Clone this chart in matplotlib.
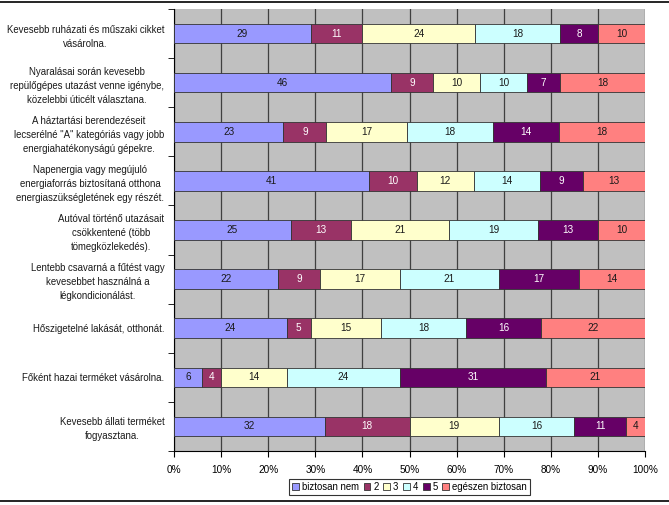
import numpy as np
import matplotlib.pyplot as plt
from matplotlib.lines import Line2D

plt.rcParams['font.family'] = ['Liberation Sans', 'DejaVu Sans']

categories = [
    'Kevesebb ruházati és műszaki cikket\nvásárolna.',
    'Nyaralásai során kevesebb\nrepülőgépes utazást venne igénybe,\nközelebbi úticélt választana.',
    'A háztartási berendezéseit\nlecserélné "A" kategóriás vagy jobb\nenergiahatékonyságú gépekre.',
    'Napenergia vagy megújuló\nenergiaforrás biztosítaná otthona\nenergiaszükségletének egy részét.',
    'Autóval történő utazásait\ncsökkentené (több\ntömegközlekedés).',
    'Lentebb csavarná a fűtést vagy\nkevesebbet használná a\nlégkondicionálást.',
    'Hőszigetelné lakását, otthonát.',
    'Főként hazai terméket vásárolna.',
    'Kevesebb állati terméket\nfogyasztana.',
]
series_names = ['biztosan nem', '2', '3', '4', '5', 'egészen biztosan']
biztosan_nem = [29, 46, 23, 41, 25, 22, 24, 6, 32]
s2 = [11, 9, 9, 10, 13, 9, 5, 4, 18]
s3 = [24, 10, 17, 12, 21, 17, 15, 14, 19]
s4 = [18, 10, 18, 14, 19, 21, 18, 24, 16]
s5 = [8, 7, 14, 9, 13, 17, 16, 31, 11]
egeszen = [10, 18, 18, 13, 10, 14, 22, 21, 4]

colors = ['#9999FF', '#993366', '#FFFFCC', '#CCFFFF', '#660066', '#FF8080']
text_colors = ['#1a1a1a', 'white', '#1a1a1a', '#1a1a1a', 'white', '#1a1a1a']

data = np.array([biztosan_nem, s2, s3, s4, s5, egeszen], dtype=float)
pct = data / data.sum(axis=0) * 100

fig = plt.figure(figsize=(6.69, 5.05), dpi=100)
ax = fig.add_axes([174 / 669, 1 - 451 / 505, (645 - 174) / 669, (451 - 9) / 505])
ax.set_facecolor('#C0C0C0')

y = np.arange(len(categories))
left = np.zeros(len(categories))
for i, name in enumerate(series_names):
    bars = ax.barh(y, pct[i], left=left, height=0.4, color=colors[i],
                   edgecolor='#333333', linewidth=0.6, label=name, zorder=3)
    for b, v in zip(bars, data[i]):
        ax.text(b.get_x() + b.get_width() / 2, b.get_y() + b.get_height() / 2,
                f'{int(v)}', ha='center', va='center', fontsize=7.2,
                color=text_colors[i], zorder=4)
    left += pct[i]

ax.set_xlim(0, 100)
ax.set_ylim(len(categories) - 0.5, -0.5)
ax.set_xticks(np.arange(0, 101, 10))
ax.set_xticklabels([f'{t}%' for t in range(0, 101, 10)], fontsize=7.2)
ax.xaxis.grid(True, color='#404040', linewidth=0.9, zorder=1)
ax.set_axisbelow(True)

ax.set_yticks(y)
ax.set_yticklabels(categories, fontsize=6.9, multialignment='center',
                   linespacing=1.5, color='#1a1a1a')
ax.tick_params(axis='y', length=0, pad=7)
ax.set_yticks(np.arange(-0.5, len(categories), 1), minor=True)
ax.tick_params(axis='y', which='minor', length=4, direction='out')
ax.tick_params(axis='x', length=4, direction='out', pad=6)

for s in ['top', 'right']:
    ax.spines[s].set_visible(False)
ax.spines['left'].set_color('black')
ax.spines['bottom'].set_color('black')

leg = ax.legend(loc='lower center', bbox_to_anchor=(0.5, -0.11), ncol=6,
                fontsize=6.9, frameon=True, fancybox=False, edgecolor='black',
                handlelength=0.7, handleheight=0.7, handletextpad=0.3,
                columnspacing=0.5, borderpad=0.3)
leg.get_frame().set_linewidth(0.8)

fig.add_artist(Line2D([0, 1], [1 - 2 / 505, 1 - 2 / 505], color='black', linewidth=1.2))
fig.add_artist(Line2D([0, 1], [1 - 501 / 505, 1 - 501 / 505], color='black', linewidth=1.2))

fig.savefig('out.png', dpi=100)
